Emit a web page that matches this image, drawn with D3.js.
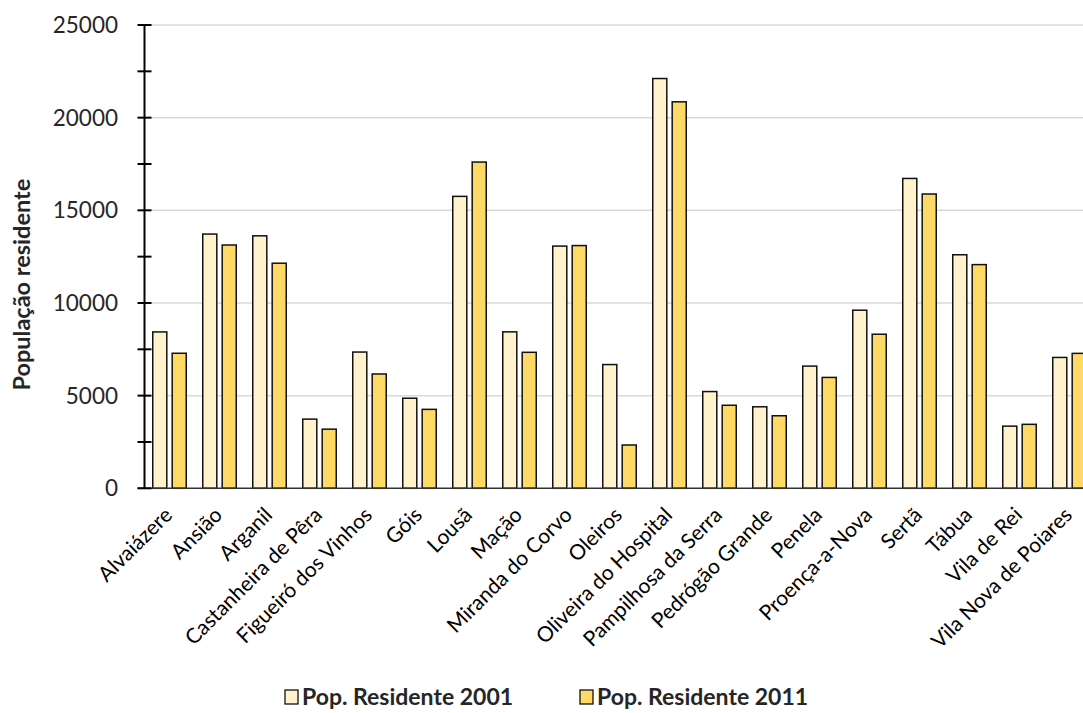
<!DOCTYPE html>
<html>
<head>
<meta charset="utf-8">
<script src="https://cdn.jsdelivr.net/npm/d3@7"></script>
<style>
  html, body { margin: 0; padding: 0; background: #fff; overflow: hidden; }
  svg { display: block; font-family: Lato, "Open Sans", sans-serif; }
</style>
</head>
<body>
<svg id="chart" width="1083" height="713"></svg>
<script>
// Resident population by municipality, census 2001 and 2011
const municipios = [
  "Alvaiázere", "Ansião", "Arganil", "Castanheira de Pêra", "Figueiró dos Vinhos",
  "Góis", "Lousã", "Mação", "Miranda do Corvo", "Oleiros", "Oliveira do Hospital",
  "Pampilhosa da Serra", "Pedrógão Grande", "Penela", "Proença-a-Nova", "Sertã",
  "Tábua", "Vila de Rei", "Vila Nova de Poiares"
];
const pop2001 = [8438, 13719, 13623, 3733, 7352, 4861, 15753, 8442, 13069, 6677, 22112,
                 5220, 4398, 6594, 9610, 16720, 12602, 3354, 7061];
const pop2011 = [7287, 13128, 12145, 3191, 6169, 4260, 17604, 7338, 13098, 2336, 20855,
                 4481, 3915, 5983, 8314, 15880, 12071, 3452, 7281];
const seriesNames = ["Pop. Residente 2001", "Pop. Residente 2011"];
const seriesColors = ["#FFF2CC", "#FFD966"];
const yTicks = [0, 5000, 10000, 15000, 20000, 25000];
const yTitle = "População residente";

const svg = d3.select("#chart");
const plotLeft = 144.5, plotTop = 25, plotBottom = 488.3;
const step = 50;
const plotRight = plotLeft + step * municipios.length;

const y = d3.scaleLinear().domain([0, 25000]).range([plotBottom, plotTop]);
const x0 = d3.scaleBand().domain(municipios).range([plotLeft, plotRight])
  .paddingInner(0.3).paddingOuter(0.15);
const x1 = d3.scaleBand().domain(seriesNames).range([0, x0.bandwidth()]).paddingInner(0.2);

// horizontal gridlines
svg.append("g")
  .selectAll("line")
  .data(yTicks.filter(d => d > 0))
  .join("line")
  .attr("x1", plotLeft).attr("x2", plotRight)
  .attr("y1", d => y(d)).attr("y2", d => y(d))
  .attr("stroke", "#d9d9d9").attr("stroke-width", 1.5);

// bars
const rows = municipios.map((m, i) => ({ m, vals: [pop2001[i], pop2011[i]] }));
const sw = 1.5;
svg.append("g")
  .selectAll("g")
  .data(rows)
  .join("g")
  .attr("transform", d => `translate(${x0(d.m)},0)`)
  .selectAll("rect")
  .data(d => d.vals.map((v, k) => ({ v, k })))
  .join("rect")
  .attr("x", d => x1(seriesNames[d.k]) + sw / 2)
  .attr("width", x1.bandwidth() - sw)
  .attr("y", d => y(d.v))
  .attr("height", d => plotBottom - y(d.v))
  .attr("fill", d => seriesColors[d.k])
  .attr("stroke", "#111")
  .attr("stroke-width", sw);

// x baseline
svg.append("line")
  .attr("x1", plotLeft - 7).attr("x2", plotRight)
  .attr("y1", plotBottom).attr("y2", plotBottom)
  .attr("stroke", "#333").attr("stroke-width", 1.5);

// y axis with major and minor ticks crossing the line
const yAxis = svg.append("g");
yAxis.append("line")
  .attr("x1", plotLeft).attr("x2", plotLeft)
  .attr("y1", plotTop).attr("y2", plotBottom)
  .attr("stroke", "#000").attr("stroke-width", 2);
yAxis.selectAll("line.tick")
  .data(d3.range(0, 25001, 2500))
  .join("line")
  .attr("class", "tick")
  .attr("x1", plotLeft - 7).attr("x2", plotLeft + 7)
  .attr("y1", d => y(d)).attr("y2", d => y(d))
  .attr("stroke", "#000").attr("stroke-width", 2);
yAxis.selectAll("text")
  .data(yTicks)
  .join("text")
  .attr("x", 118).attr("y", d => y(d))
  .attr("dy", "0.36em")
  .attr("text-anchor", "end")
  .attr("font-size", 22.5)
  .attr("fill", "#262626")
  .text(d => d);

// category labels, rotated
svg.append("g")
  .selectAll("text")
  .data(municipios)
  .join("text")
  .attr("transform", d => `translate(${x0(d) + x0.bandwidth() / 2 + 4},${plotBottom + 28}) rotate(-45)`)
  .attr("text-anchor", "end")
  .attr("font-size", 21)
  .attr("fill", "#000")
  .text(d => d);

// y axis title
svg.append("text")
  .attr("transform", `translate(30,${(plotTop + plotBottom) / 2 + 28}) rotate(-90)`)
  .attr("text-anchor", "middle")
  .attr("font-size", 23.5)
  .attr("font-weight", "bold")
  .attr("fill", "#262626")
  .text(yTitle);

// legend
const legendX = [285, 580];
const legend = svg.append("g");
seriesNames.forEach((name, k) => {
  legend.append("rect")
    .attr("x", legendX[k]).attr("y", 690)
    .attr("width", 13).attr("height", 14)
    .attr("fill", seriesColors[k])
    .attr("stroke", "#111").attr("stroke-width", 1.3);
  legend.append("text")
    .attr("x", legendX[k] + 17).attr("y", 705)
    .attr("font-size", 23)
    .attr("font-weight", "bold")
    .attr("fill", "#262626")
    .text(name);
});
</script>
</body>
</html>
